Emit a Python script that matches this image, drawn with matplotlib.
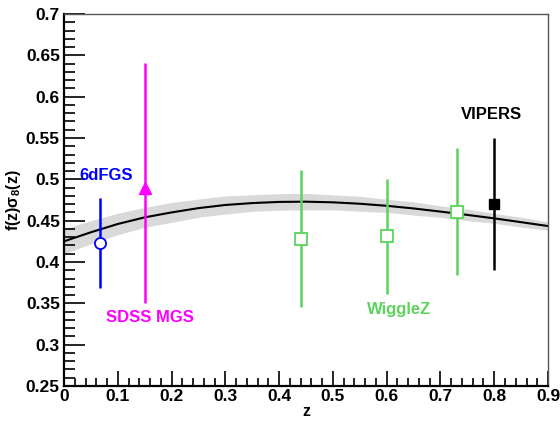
import numpy as np
import matplotlib
matplotlib.use('Agg')
import matplotlib.pyplot as plt
from matplotlib.ticker import MultipleLocator

# LCDM prediction, with its band half-width
z_model = [0.0, 0.05, 0.1, 0.15, 0.2, 0.25, 0.3, 0.35, 0.4, 0.45,
           0.5, 0.55, 0.6, 0.65, 0.7, 0.75, 0.8, 0.85, 0.9]
fs8_model = [0.425, 0.436, 0.446, 0.454, 0.460, 0.4652, 0.4690, 0.4713, 0.4727, 0.4730,
             0.4722, 0.4705, 0.4680, 0.4648, 0.4610, 0.4570, 0.4528, 0.4482, 0.4435]
band_half = [0.015, 0.014, 0.013, 0.012, 0.012, 0.011, 0.011, 0.010, 0.010, 0.010,
             0.009, 0.009, 0.008, 0.008, 0.007, 0.007, 0.006, 0.006, 0.005]

# measurements
z_6df, fs8_6df, err_6df = [0.067], [0.423], [0.055]
z_mgs, fs8_mgs, err_mgs_lo, err_mgs_hi = [0.15], [0.49], [0.14], [0.151]
z_wig = [0.44, 0.60, 0.73]
fs8_wig = [0.428, 0.431, 0.461]
err_wig = [0.083, 0.070, 0.077]
z_vip, fs8_vip, err_vip = [0.80], [0.470], [0.080]

xtick_labels = ['0', '0.1', '0.2', '0.3', '0.4', '0.5', '0.6', '0.7', '0.8', '0.9']
ytick_labels = ['0.25', '0.3', '0.35', '0.4', '0.45', '0.5', '0.55', '0.6', '0.65', '0.7']

green = '#5cd35c'
plt.rcParams['font.family'] = ['Liberation Sans', 'DejaVu Sans']
plt.rcParams['font.weight'] = 'bold'
plt.rcParams['axes.labelweight'] = 'bold'
plt.rcParams['mathtext.fontset'] = 'custom'
plt.rcParams['mathtext.bf'] = 'Liberation Sans:bold'
plt.rcParams['mathtext.rm'] = 'Liberation Sans:bold'

fig = plt.figure(figsize=(5.6, 4.21), dpi=100)
ax = fig.add_axes([0.1143, 0.0831, 0.8643, 0.8836])

zm = np.array(z_model)
fm = np.array(fs8_model)
bh = np.array(band_half)
ax.fill_between(zm, fm - bh, fm + bh, color='#d9d9d9', lw=0, zorder=1)
ax.plot(zm, fm, color='black', lw=1.5, zorder=2)

ax.errorbar(z_6df, fs8_6df, yerr=err_6df, fmt='o', color='blue', mfc='white',
            mec='blue', ms=8, mew=1.3, elinewidth=1.8, capsize=0, zorder=3)
ax.errorbar(z_mgs, fs8_mgs, yerr=[err_mgs_lo, err_mgs_hi], fmt='^', color='magenta',
            ms=8, elinewidth=1.8, capsize=0, zorder=3)
ax.errorbar(z_wig, fs8_wig, yerr=err_wig, fmt='s', color=green, mfc='white',
            mec=green, ms=8, mew=1.3, elinewidth=1.8, capsize=0, zorder=3)
ax.errorbar(z_vip, fs8_vip, yerr=err_vip, fmt='s', color='black',
            ms=7.5, elinewidth=1.8, capsize=0, zorder=3)

ax.text(0.078, 0.505, '6dFGS', color='blue', fontsize=12, ha='center', va='center')
ax.text(0.16, 0.333, 'SDSS MGS', color='magenta', fontsize=12, ha='center', va='center')
ax.text(0.623, 0.342, 'WiggleZ', color=green, fontsize=12, ha='center', va='center')
ax.text(0.795, 0.578, 'VIPERS', color='black', fontsize=12, ha='center', va='center')

ax.set_xlim(0, 0.9)
ax.set_ylim(0.25, 0.7)
ax.xaxis.set_minor_locator(MultipleLocator(0.02))
ax.yaxis.set_minor_locator(MultipleLocator(0.01))
ax.set_xticks(np.arange(0, 0.91, 0.1))
ax.set_xticklabels(xtick_labels, fontweight='bold')
ax.set_yticks(np.arange(0.25, 0.701, 0.05))
ax.set_yticklabels(ytick_labels, fontweight='bold')
ax.tick_params(axis='both', which='both', direction='in', labelsize=12.5, width=1.2)
ax.tick_params(axis='y', which='major', length=15, pad=3)
ax.tick_params(axis='y', which='minor', length=8)
ax.tick_params(axis='x', which='major', length=11, pad=2)
ax.tick_params(axis='x', which='minor', length=6)

ax.spines['left'].set_linewidth(1.6)
ax.spines['bottom'].set_linewidth(1.6)
for s in ['top', 'right']:
    ax.spines[s].set_color('#555555')
    ax.spines[s].set_linewidth(1.0)

ax.set_xlabel('z', fontsize=11.5, labelpad=0)
ax.set_ylabel(r'f(z)σ$_{\mathbf{8}}$(z)', fontsize=11.5, labelpad=2)

fig.savefig('out.png', dpi=100)
